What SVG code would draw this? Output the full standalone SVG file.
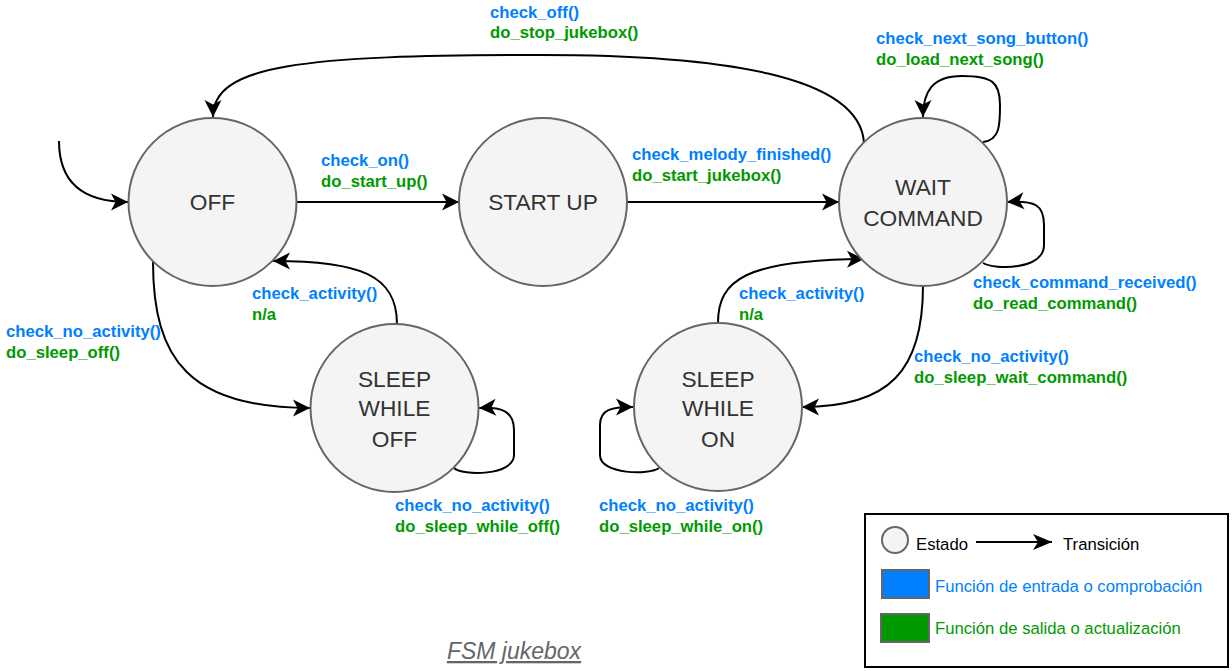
<svg xmlns="http://www.w3.org/2000/svg" width="1232" height="671" viewBox="0 0 1232 671">
<style>
.st{fill:#f4f4f4;stroke:#666666;stroke-width:2}
.nt{font-family:"Liberation Sans",Arial,sans-serif;font-size:22.7px;fill:#333333;text-anchor:middle}
.e{fill:none;stroke:#000000;stroke-width:2}
.lb{font-family:"Liberation Sans",Arial,sans-serif;font-size:16.7px;font-weight:bold}
.b{fill:#007FFF}
.g{fill:#009900}
.lg{font-family:"Liberation Sans",Arial,sans-serif;font-size:16.7px}
</style>
<defs>
<marker id="arr" markerUnits="userSpaceOnUse" viewBox="-19 -10 20 20" refX="0" refY="0" markerWidth="20" markerHeight="20" orient="auto">
<path d="M0,0 L-17,-8.5 L-12.5,0 L-17,8.5 Z" fill="#000"/>
</marker>
<marker id="arrL" markerUnits="userSpaceOnUse" viewBox="-20 -9 21 18" refX="0" refY="0" markerWidth="21" markerHeight="18" orient="auto">
<path d="M0,0 L-19,-8 L-14,0 L-19,8 Z" fill="#000"/>
</marker>
</defs>
<rect width="1232" height="671" fill="#ffffff"/>
<g id="connectors">
<path class="e" marker-end="url(#arr)" d="M59,141 C59,180 80,202 128,202"/>
<path class="e" marker-end="url(#arr)" d="M297,202 L459,202"/>
<path class="e" marker-end="url(#arr)" d="M627,202 L839,202"/>
<path class="e" marker-end="url(#arr)" d="M864,143 C860,75 720,55 540,55 C300,55 213,65 213,117"/>
<path class="e" marker-end="url(#arr)" d="M983,142 C1000,140 1000,125 1000,105 C1000,82 992,76 962,76 C932,76 923,92 923,117"/>
<path class="e" marker-end="url(#arr)" d="M983,263 C995,270 1044,270 1044,245 L1044,225 C1044,205 1035,200 1007,202"/>
<path class="e" marker-end="url(#arr)" d="M923,286 C923,370 890,407 802,407"/>
<path class="e" marker-end="url(#arr)" d="M718,323 C718,280 745,260 864,259"/>
<path class="e" marker-end="url(#arr)" d="M659,468 C650,475 600,475 600,455 L600,425 C600,410 610,407 633,407"/>
<path class="e" marker-end="url(#arr)" d="M153,262 C153,360 190,408 310,408"/>
<path class="e" marker-end="url(#arr)" d="M397,324 C397,275 360,261 273,261"/>
<path class="e" marker-end="url(#arr)" d="M454,468 C462,476 514,476 514,455 L514,430 C514,410 500,407 479,408"/>
</g>
<g id="labels">
<text class="lb b" x="490" y="18">check_off()</text>
<text class="lb g" x="490" y="38">do_stop_jukebox()</text>
<text class="lb b" x="876" y="44">check_next_song_button()</text>
<text class="lb g" x="876" y="65">do_load_next_song()</text>
<text class="lb b" x="321" y="166">check_on()</text>
<text class="lb g" x="321" y="187">do_start_up()</text>
<text class="lb b" x="632" y="160">check_melody_finished()</text>
<text class="lb g" x="632" y="181">do_start_jukebox()</text>
<text class="lb b" x="973" y="288">check_command_received()</text>
<text class="lb g" x="973" y="309">do_read_command()</text>
<text class="lb b" x="252" y="299">check_activity()</text>
<text class="lb g" x="252" y="320">n/a</text>
<text class="lb b" x="6" y="337">check_no_activity()</text>
<text class="lb g" x="6" y="358">do_sleep_off()</text>
<text class="lb b" x="739" y="299">check_activity()</text>
<text class="lb g" x="739" y="320">n/a</text>
<text class="lb b" x="914" y="362">check_no_activity()</text>
<text class="lb g" x="914" y="383">do_sleep_wait_command()</text>
<text class="lb b" x="395" y="511">check_no_activity()</text>
<text class="lb g" x="395" y="532">do_sleep_while_off()</text>
<text class="lb b" x="599" y="511">check_no_activity()</text>
<text class="lb g" x="599" y="532">do_sleep_while_on()</text>
</g>
<g id="off">
<circle class="st" cx="212.5" cy="202" r="84"/>
<text class="nt" x="212.5" y="210">OFF</text>
</g>
<g id="startup">
<circle class="st" cx="543" cy="202" r="84"/>
<text class="nt" x="543" y="210">START UP</text>
</g>
<g id="waitcommand">
<circle class="st" cx="923" cy="202" r="84"/>
<text class="nt" x="923" y="195">WAIT</text>
<text class="nt" x="923" y="226">COMMAND</text>
</g>
<g id="sleepwhileoff">
<circle class="st" cx="394.5" cy="408" r="84"/>
<text class="nt" x="394.5" y="387">SLEEP</text>
<text class="nt" x="394.5" y="416">WHILE</text>
<text class="nt" x="394.5" y="447">OFF</text>
</g>
<g id="sleepwhileon">
<circle class="st" cx="718" cy="407" r="84"/>
<text class="nt" x="718" y="387">SLEEP</text>
<text class="nt" x="718" y="416">WHILE</text>
<text class="nt" x="718" y="447">ON</text>
</g>
<g id="legend">
<rect x="865" y="514" width="363" height="153" fill="#ffffff" stroke="#000000" stroke-width="2"/>
<circle cx="895" cy="540" r="13" fill="#f4f4f4" stroke="#666666" stroke-width="2"/>
<text class="lg" x="916" y="550" fill="#000">Estado</text>
<path class="e" marker-end="url(#arrL)" d="M976,542 L1052,542"/>
<text class="lg" x="1063" y="550" fill="#000">Transición</text>
<rect x="882" y="570" width="47" height="28" fill="#007FFF" stroke="#666666" stroke-width="2"/>
<text class="lg b" x="935" y="592">Función de entrada o comprobación</text>
<rect x="881" y="614" width="48" height="28" fill="#009900" stroke="#666666" stroke-width="2"/>
<text class="lg g" x="935" y="634">Función de salida o actualización</text>
</g>
<g id="title">
<text x="514" y="659" font-family="'Liberation Sans',Arial,sans-serif" font-size="23px" font-style="italic" text-decoration="underline" fill="#666666" text-anchor="middle">FSM jukebox</text>
</g>
</svg>
